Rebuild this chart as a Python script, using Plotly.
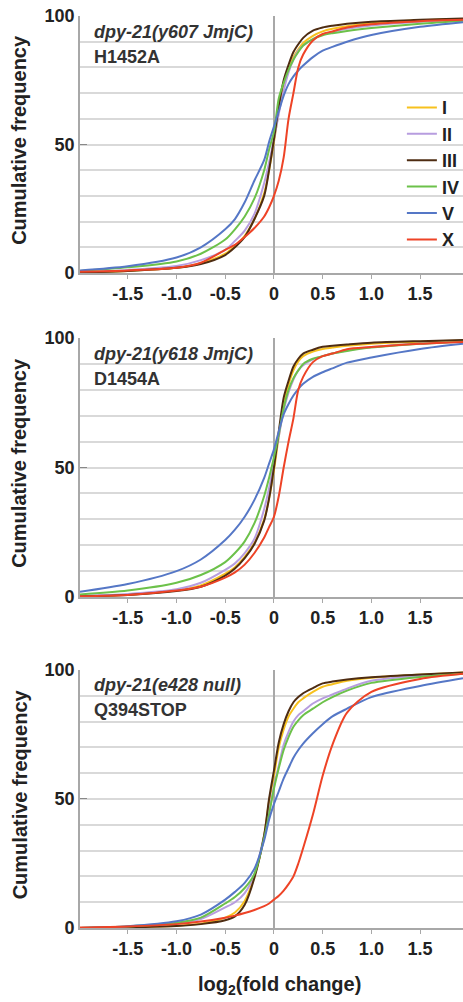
import plotly.graph_objects as go

# ---------------- data ----------------
x_vals = [-1.99, -1.5, -1.0, -0.75, -0.5, -0.4, -0.3, -0.2, -0.1, -0.05, 0, 0.05,
          0.1, 0.15, 0.2, 0.25, 0.3, 0.4, 0.5, 0.6, 0.75, 1.0, 1.5, 1.94]

series_names = ["I", "II", "III", "IV", "V", "X"]
series_colors = ["#f7c11e", "#b79ddf", "#4e2c12", "#6cc14a", "#5577c6", "#ee4326"]

# Panel 1: dpy-21(y607 JmjC) H1452A
p1_I   = [0.2, 0.8, 2, 3.8, 7.5, 10.5, 14.5, 21, 31, 40, 51, 63, 73, 79, 84, 87, 89.5, 92.3, 94, 95, 96, 97.2, 98.3, 98.8]
p1_II  = [0.3, 1.2, 2.7, 5, 9, 12.5, 16.5, 23, 35, 43, 52, 62, 71, 78, 83, 86.5, 88.5, 91, 92.8, 93.8, 95, 96.3, 97.8, 98.5]
p1_III = [0.2, 0.8, 2, 3.5, 7, 10, 14, 21, 30, 40, 52, 65, 75, 81, 86, 89, 91.5, 94.3, 95.5, 96.2, 97, 97.8, 98.5, 99]
p1_IV  = [0.8, 2.2, 4.5, 7.5, 13, 17, 22, 29, 40, 48, 55, 68, 74, 79, 83, 86, 88.5, 91, 92.5, 93.3, 94.2, 95.3, 97, 98.2]
p1_V   = [1, 2.6, 6, 10, 17, 21, 27.5, 36, 44, 51, 57, 63, 69, 73.5, 76.5, 78.8, 80.7, 84, 86.5, 88, 90, 92.6, 95.8, 97.6]
p1_X   = [0.5, 1, 2, 4, 9, 11, 14, 17.5, 22, 25.5, 30, 36, 45, 60, 70, 80, 85, 90.5, 93, 94, 95.5, 96.8, 98, 98.5]

# Panel 2: dpy-21(y618 JmjC) D1454A
p2_I   = [0.3, 0.9, 2.6, 4.5, 9, 11.5, 15.5, 21, 30, 38, 49, 62, 74, 82, 87.5, 91, 93, 94.8, 95.8, 96.3, 97, 97.8, 98.6, 99]
p2_II  = [0.5, 1.2, 3, 5.5, 10.5, 13, 17, 22.5, 34, 42, 52, 62, 72, 79, 84, 87.5, 89.5, 91.8, 93, 94, 95.2, 96.5, 97.9, 98.6]
p2_III = [0.3, 0.8, 2.3, 4, 8.3, 11, 15, 20.5, 29.5, 38, 50, 64, 77, 83.5, 89, 92, 94, 95.5, 96.6, 97, 97.5, 98.2, 98.8, 99.2]
p2_IV  = [1, 2.5, 5.5, 8.5, 13.5, 17, 21.5, 28.5, 39, 46, 54, 63, 73, 80, 84.5, 87.5, 90, 92, 93, 94, 95, 96.3, 97.8, 98.6]
p2_V   = [2, 5, 10, 14.5, 22, 26, 31, 37.5, 46, 51.5, 57, 64, 70.5, 74.5, 77.8, 80.3, 82.3, 85, 86.8, 88.3, 90.5, 92.5, 95.8, 97.8]
p2_X   = [0.3, 0.8, 2.5, 4, 7.5, 9.5, 12.5, 17, 23, 27, 31, 39, 50, 60, 69, 80, 85, 90.7, 93, 94, 95.7, 96.5, 97.8, 98.5]

# Panel 3: dpy-21(e428 null) Q394STOP
p3_I   = [0, 0.3, 0.9, 1.7, 4, 6, 10.5, 20, 36, 49, 59, 70, 77, 82, 85, 87.5, 89, 91.5, 93.5, 94.5, 95.8, 97, 98.2, 99]
p3_II  = [0, 0.5, 1.8, 3.5, 8, 10, 13.5, 21, 36, 45, 55, 63, 71, 76, 80, 82.5, 84, 87, 89, 90.5, 92.8, 95.8, 97.8, 98.8]
p3_III = [0, 0.3, 0.8, 1.5, 3, 4.5, 9, 19.5, 36, 50, 61, 72, 79, 84, 87.5, 89.5, 91, 93, 94.8, 95.5, 96.3, 97.2, 98.3, 99]
p3_IV  = [0, 0.6, 2, 4, 9.5, 12, 15.5, 21, 35, 44, 54, 62, 69, 74, 78, 80.5, 82.5, 85, 87.5, 89.5, 92, 95, 97.3, 98.5]
p3_V   = [0, 0.7, 2.6, 5.2, 11, 14, 17.5, 23, 34, 42, 48, 53, 58, 62, 66, 69, 71.5, 75.5, 79, 82, 85, 89.5, 93.8, 96.8]
p3_X   = [0.2, 0.6, 1.5, 2.5, 4, 4.8, 5.8, 7, 8.5, 9.5, 11, 12.5, 14.5, 17, 20, 25, 31, 44, 59, 71, 83.5, 91.5, 96.5, 98.5]

panel_labels = [("dpy-21(y607 JmjC)", "H1452A"),
                ("dpy-21(y618 JmjC)", "D1454A"),
                ("dpy-21(e428 null)", "Q394STOP")]

x_tick_vals = [-1.5, -1.0, -0.5, 0, 0.5, 1.0, 1.5]
x_tick_text = ["-1.5", "-1.0", "-0.5", "0", "0.5", "1.0", "1.5"]
y_tick_vals = [0, 50, 100]
y_tick_text = ["0", "50", "100"]
y_minor_vals = [10, 20, 30, 40, 60, 70, 80, 90]

y_axis_title = "Cumulative frequency"
x_axis_title = "log<sub>2</sub>(fold change)"

panels = [
    [p1_I, p1_II, p1_III, p1_IV, p1_V, p1_X],
    [p2_I, p2_II, p2_III, p2_IV, p2_V, p2_X],
    [p3_I, p3_II, p3_III, p3_IV, p3_V, p3_X],
]

# ---------------- figure ----------------
FONT = "Liberation Sans, Arial, Helvetica, sans-serif"
domains = [[0.7182, 1.0], [0.3629, 0.6469], [0.0, 0.2829]]

fig = go.Figure()

for p, panel in enumerate(panels):
    xa = "x" if p == 0 else f"x{p+1}"
    ya = "y" if p == 0 else f"y{p+1}"
    for name, color, vals in zip(series_names, series_colors, panel):
        fig.add_trace(go.Scatter(
            x=x_vals, y=vals, mode="lines", name=name,
            line=dict(color=color, width=2, shape="spline", smoothing=0.8),
            xaxis=xa, yaxis=ya, showlegend=(p == 0), hoverinfo="skip",
        ))

layout = dict(
    width=463, height=1002,
    margin=dict(l=80, r=0, t=16, b=74, autoexpand=False),
    paper_bgcolor="white", plot_bgcolor="white",
    font=dict(family=FONT, color="#222222"),
    legend=dict(
        xref="container", yref="container",
        x=0.868, xanchor="left", y=0.911, yanchor="top",
        font=dict(size=18, family=FONT, weight="bold", color="#222222"),
        bgcolor="rgba(0,0,0,0)", borderwidth=0, itemwidth=30,
        tracegroupgap=0,
    ),
)

annotations = []
for p in range(3):
    sfx = "" if p == 0 else str(p + 1)
    layout[f"xaxis{sfx}"] = dict(
        domain=[0, 1], anchor=f"y{sfx}", range=[-1.99, 1.94], automargin=False,
        tickmode="array", tickvals=x_tick_vals, ticktext=x_tick_text,
        tickfont=dict(size=18, family=FONT, weight="bold", color="#222222"),
        showgrid=False, zeroline=True, zerolinecolor="#a8a8a8", zerolinewidth=1.6,
        showline=True, linecolor="#a8a8a8", linewidth=1.6,
        ticks="outside", ticklen=4, tickcolor="#a8a8a8", tickwidth=1,
        fixedrange=True,
    )
    layout[f"yaxis{sfx}"] = dict(
        domain=domains[p], anchor=f"x{sfx}", range=[0, 100], automargin=False,
        tickmode="array", tickvals=y_tick_vals, ticktext=y_tick_text,
        tickfont=dict(size=18, family=FONT, weight="bold", color="#222222"),
        showgrid=True, gridcolor="#d9d9d9", gridwidth=1.6,
        minor=dict(tickmode="array", tickvals=y_minor_vals, showgrid=True,
                   gridcolor="#d9d9d9", gridwidth=1.6, ticks=""),
        zeroline=False, showline=True, linecolor="#a8a8a8", linewidth=1.6,
        ticks="inside", ticklen=7, tickcolor="#888888", tickwidth=1.2,
        fixedrange=True,
    )
    annotations.append(dict(
        text=y_axis_title, textangle=-90, xref="paper", yref=f"y{sfx} domain",
        x=-0.158, y=0.52, xanchor="center", yanchor="middle", showarrow=False,
        font=dict(size=20, family=FONT, weight="bold", color="#222222"),
    ))
    line1, line2 = panel_labels[p]
    annotations.append(dict(
        text=f"<i>{line1}</i>", xref=f"x{sfx} domain", yref=f"y{sfx} domain",
        x=0.031, y=[0.938, 0.939, 0.942][p], xanchor="left", yanchor="middle",
        showarrow=False,
        font=dict(size=18, family=FONT, weight="bold", color="#333333"),
    ))
    annotations.append(dict(
        text=line2, xref=f"x{sfx} domain", yref=f"y{sfx} domain",
        x=0.031, y=[0.840, 0.840, 0.845][p], xanchor="left", yanchor="middle",
        showarrow=False,
        font=dict(size=18, family=FONT, weight="bold", color="#333333"),
    ))

annotations.append(dict(
    text=x_axis_title, xref="paper", yref="paper", x=0.52, y=-0.0625,
    xanchor="center", yanchor="middle", showarrow=False,
    font=dict(size=20, family=FONT, weight="bold", color="#222222"),
))

layout["annotations"] = annotations
fig.update_layout(**layout)

fig.write_html(
    "out.html",
    config={"displayModeBar": False},
    post_script="document.body.style.margin='0px';document.body.style.padding='0px';",
)
